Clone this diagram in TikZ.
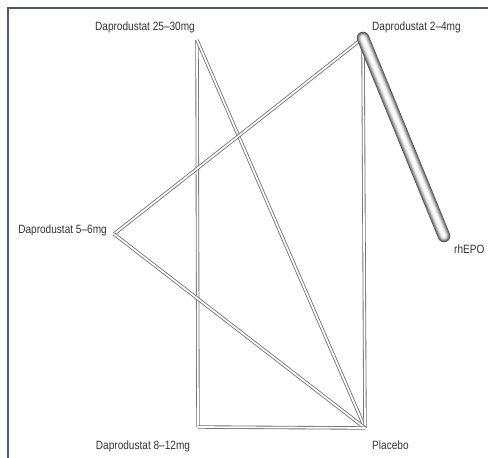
\documentclass[tikz,border=0pt]{standalone}
\usepackage{fontspec}
\setmainfont{Liberation Sans}[FakeStretch=0.84]
\begin{document}
\begin{tikzpicture}[x=1pt,y=-1pt,
  lab/.style={font=\fontsize{12}{14}\selectfont, text=black!80, inner sep=0pt},
  edge/.style={draw=black!55, line width=0.85pt, double=white, double distance=1.7pt},
  frameline/.style={draw={rgb,255:red,74;green,88;blue,118}, line width=2pt}]
\useasboundingbox (0,0) rectangle (488,458);
\fill[white] (0,0) rectangle (488,458);
\draw[frameline] (7.5,458) -- (7.5,7.5) -- (488,7.5);
% vertices
\coordinate (d25) at (197,40);
\coordinate (d2) at (363,38);
\coordinate (d5) at (114,234);
\coordinate (d8) at (198,427);
\coordinate (pl) at (365,428);
\coordinate (rh) at (444,236);
% thin edges
\draw[edge] (d25) -- (d8);
\draw[edge] (d25) -- (pl);
\draw[edge] (d2) -- (d5);
\draw[edge] (d2) -- (pl);
\draw[edge] (d5) -- (pl);
\draw[edge] (d8) -- (pl);
% thick tube
\foreach \w/\c in {12.5/30,11.5/40,10.5/50,9.5/58,8.5/66,7.5/74,6.5/81,5.5/87,4.5/92,3.5/96,2.5/99}{
  \draw[line width=\w pt, line cap=round, draw=white!\c!black] (d2) -- (rh);
}
% labels
\node[lab, anchor=base] (l25) at (145,30) {Daprodustat 25–30mg};
\node[lab, anchor=base west] (l2) at (372,30) {Daprodustat 2–4mg};
\node[lab, anchor=base east] (l5) at (107,233) {Daprodustat 5–6mg};
\node[lab, anchor=base] (l8) at (143,449) {Daprodustat 8–12mg};
\node[lab, anchor=base west] (lp) at (372,449) {Placebo};
\node[lab, anchor=base west] (lr) at (454,253) {rhEPO};
\end{tikzpicture}
\end{document}
